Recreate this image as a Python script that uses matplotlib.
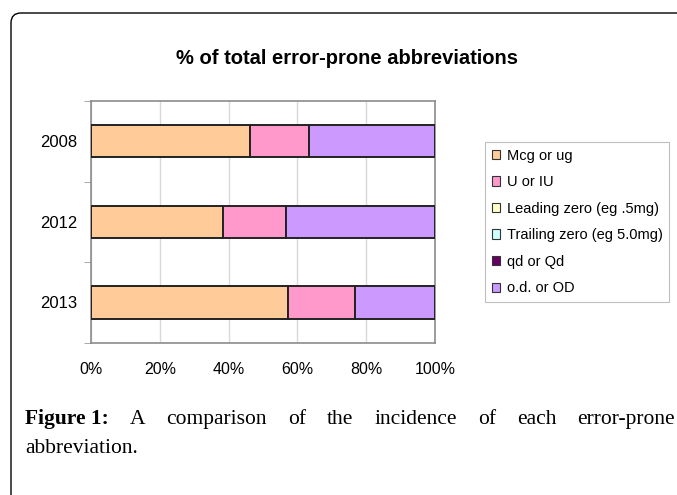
import matplotlib
matplotlib.use("Agg")
import matplotlib.pyplot as plt
from matplotlib.patches import Patch, FancyBboxPatch
import numpy as np

years = ["2008", "2012", "2013"]
series = ["Mcg or ug", "U or IU", "Leading zero (eg .5mg)",
          "Trailing zero (eg 5.0mg)", "qd or Qd", "o.d. or OD"]
mcg = [46.2, 38.5, 57.4]
u_iu = [17.2, 18.1, 19.3]
leading = [0.0, 0.0, 0.0]
trailing = [0.0, 0.0, 0.0]
qd = [0.0, 0.0, 0.0]
od = [36.6, 43.4, 23.3]
colors = ["#FFCC99", "#FF99CC", "#FFFFCC", "#CCFFFF", "#660066", "#CC99FF"]
xticks = [0, 20, 40, 60, 80, 100]
xticklabels = ["0%", "20%", "40%", "60%", "80%", "100%"]
title = "% of total error-prone abbreviations"

plt.rcParams['font.family'] = ['Liberation Sans', 'DejaVu Sans']

W, H = 677, 495
fig = plt.figure(figsize=(W / 100, H / 100), dpi=100)
fig.patch.set_facecolor("white")

# rounded frame
frame = FancyBboxPatch((0.11, -1.0), 8.0, 4.95 - 0.13 + 1.0,
                       boxstyle="round,pad=0,rounding_size=0.10",
                       transform=fig.dpi_scale_trans, facecolor="none",
                       edgecolor="black", linewidth=1.0)
fig.add_artist(frame)

ax = fig.add_axes([91 / W, 1 - 342.7 / H, (435 - 91) / W, (342.7 - 101) / H])
data = [mcg, u_iu, leading, trailing, qd, od]
ypos = np.arange(len(years))
left = np.zeros(len(years))
for vals, c, name in zip(data, colors, series):
    vals = np.array(vals, dtype=float)
    ax.barh(ypos, vals, left=left, height=0.4, color=c, edgecolor="#222222",
            linewidth=1.4, label=name, zorder=3)
    left += vals

ax.set_xlim(0, 100)
ax.set_ylim(2.5, -0.5)
ax.set_xticks(xticks)
ax.set_xticklabels(xticklabels, fontsize=11.5)
ax.set_yticks(ypos)
ax.set_yticklabels(years, fontsize=12)
ax.tick_params(axis="y", length=0, pad=10)
ax.tick_params(axis="x", length=0, pad=14)
ax.set_yticks([-0.5, 0.5, 1.5, 2.5], minor=True)
ax.tick_params(axis="y", which="minor", length=5, color="#999999", direction="out")
ax.grid(axis="x", color="#d9d9d9", linewidth=1.0, zorder=0)
for s in ax.spines.values():
    s.set_color("#8c8c8c")
    s.set_linewidth(1.2)

fig.text(347 / W, 1 - 59 / H, title, ha="center", va="center",
         fontsize=14.5, fontweight="bold")

handles = [Patch(facecolor=c, edgecolor="#333333", linewidth=0.8) for c in colors]
leg = fig.legend(handles, series, loc="upper left",
                 bbox_to_anchor=(485 / W, 1 - 142 / H), borderaxespad=0,
                 fontsize=10.5, frameon=True, fancybox=False, edgecolor="#b0b0b0",
                 handlelength=0.6, handleheight=0.6, handletextpad=0.45,
                 labelspacing=0.86, borderpad=0.45)
leg.get_frame().set_linewidth(0.8)

# caption, justified first line
cap_font = ['Liberation Serif', 'DejaVu Serif']
words = [("Figure 1:", "bold"), ("A", "normal"), ("comparison", "normal"),
         ("of", "normal"), ("the", "normal"), ("incidence", "normal"),
         ("of", "normal"), ("each", "normal"), ("error-prone", "normal")]
x0, x1 = 25, 675
y1 = H - 424
fig.canvas.draw()
renderer = fig.canvas.get_renderer()
arts = []
total = 0
for w, fw in words:
    t = fig.text(0, y1 / H, w, fontsize=15.5, fontweight=fw, family=cap_font,
                 ha="left", va="baseline")
    bb = t.get_window_extent(renderer)
    arts.append((t, bb.width))
    total += bb.width
gap = (x1 - x0 - total) / (len(words) - 1)
x = x0
for t, wd in arts:
    t.set_x(x / W)
    x += wd + gap
fig.text(x0 / W, (H - 453) / H, "abbreviation.", fontsize=15.5, family=cap_font,
         ha="left", va="baseline")

fig.savefig("out.png", dpi=100)
